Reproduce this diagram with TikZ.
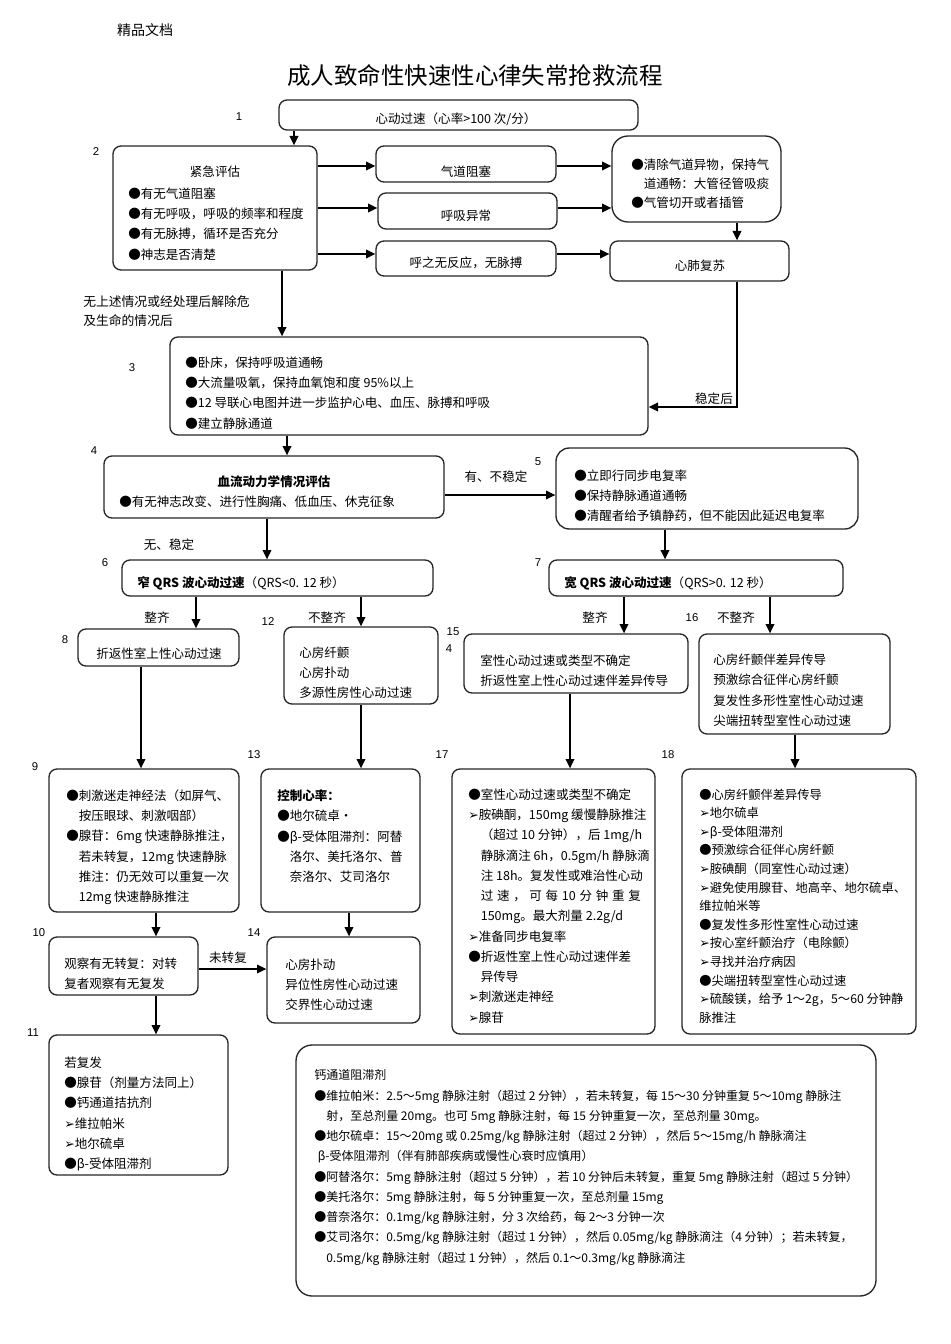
\documentclass[tikz,border=0pt]{standalone}
\usepackage{fontspec}
\setmainfont{Noto Sans CJK SC}
\newfontfamily\dvsans{DejaVu Sans}
\newfontfamily\lsans{Liberation Sans}
\usetikzlibrary{arrows.meta,fit}
\newcommand\myarr{{\dvsans\fontsize{9.4}{9.4}\selectfont ➢}}
\newcommand\ind{\hspace*{1em}}
\begin{document}
\begin{tikzpicture}[x=0.75pt,y=-0.75pt,
  box/.style={draw=black!85, line width=1pt, rounded corners=6pt, inner sep=0pt},
  arr/.style={draw=black, line width=1.1pt, -{Triangle[length=7pt,width=6.5pt]}},
  txt/.style={inner sep=0pt, anchor=north west, yshift=4.2pt, align=left, font=\fontsize{9.4}{15.2}\selectfont},
  lbl/.style={inner sep=0pt, font=\fontsize{9.4}{11}\selectfont},
  num/.style={inner sep=0pt, font=\lsans\fontsize{8.5}{10}\selectfont},
]
\useasboundingbox (0,0) rectangle (950,1344);
\fill[white] (0,0) rectangle (950,1344);

% header and title
\node[inner sep=0pt, font=\fontsize{10.5}{12}\selectfont] (hdr) at (145,30) {精品文档};
\node[inner sep=0pt, font=\fontsize{17.6}{20}\selectfont] (title) at (475,76) {成人致命性快速性心律失常抢救流程};

% boxes
\node[box, fit={(279,100) (638,130)}] (b1) {};
\node[box, fit={(113,146) (317,270)}] (b2) {};
\node[box, fit={(376,146) (556,182)}] (bAir) {};
\node[box, fit={(378,193) (557,229)}] (bBreath) {};
\node[box, fit={(376,241) (556,276)}] (bNoResp) {};
\node[box, fit={(612,136) (781,222)}, rounded corners=12pt] (bClear) {};
\node[box, fit={(610,241) (789,281)}] (bCPR) {};
\node[box, fit={(170,337) (648,435)}] (b3) {};
\node[box, fit={(104,456) (444,518)}] (b4) {};
\node[box, fit={(556,448) (858,529)}, rounded corners=10pt] (b5) {};
\node[box, fit={(122,560) (433,596)}] (b6) {};
\node[box, fit={(549,560) (843,596)}] (b7) {};
\node[box, fit={(78,629) (239,666)}] (b8) {};
\node[box, fit={(284,627) (438,704)}] (b12) {};
\node[box, fit={(464,634) (688,693)}] (b15) {};
\node[box, fit={(699,634) (890,734)}] (b16) {};
\node[box, fit={(49,769) (239,912)}] (b9) {};
\node[box, fit={(261,769) (420,912)}] (b13) {};
\node[box, fit={(452,769) (655,1034)}] (b17) {};
\node[box, fit={(682,769) (916,1034)}] (b18) {};
\node[box, fit={(49,937) (198,995)}] (b10) {};
\node[box, fit={(267,937) (420,1023)}] (b14) {};
\node[box, fit={(49,1035) (228,1175)}] (b11) {};
\node[box, fit={(296,1045) (876,1296)}, rounded corners=12pt] (bCa) {};

% number labels
\node[num] (n1) at (239,117) {1};
\node[num] (n2) at (96,152) {2};
\node[num] (n3) at (132,368) {3};
\node[num] (n4) at (94,451) {4};
\node[num] (n5) at (538,462) {5};
\node[num] (n6) at (105,563) {6};
\node[num] (n7) at (538,563) {7};
\node[num] (n8) at (65,640) {8};
\node[num] (n12) at (268,622) {12};
\node[num] (n15) at (453,632) {15};
\node[num] (n15b) at (449,649) {4};
\node[num] (n16) at (692,618) {16};
\node[num] (n9) at (35,767) {9};
\node[num] (n13) at (254,755) {13};
\node[num] (n17) at (442,755) {17};
\node[num] (n18) at (668,755) {18};
\node[num] (n10) at (39,933) {10};
\node[num] (n14) at (254,933) {14};
\node[num] (n11) at (33,1033) {11};

% texts
\node[lbl] (t1) at (456,119) {心动过速（心率>100 次/分）};
\node[lbl] (t2h) at (215,172) {紧急评估};
\node[txt] (t2) at (128,193) {●有无气道阻塞\\●有无呼吸，呼吸的频率和程度\\●有无脉搏，循环是否充分\\●神志是否清楚};
\node[lbl] (tAir) at (466,172) {气道阻塞};
\node[lbl] (tBreath) at (466,216) {呼吸异常};
\node[lbl] (tNoResp) at (466,263) {呼之无反应，无脉搏};
\node[txt, font=\fontsize{9.4}{14.3}\selectfont] (tClear) at (631,164) {●清除气道异物，保持气\\\ind 道通畅：大管径管吸痰\\●气管切开或者插管};
\node[lbl] (tCPR) at (700,266) {心肺复苏};
\node[txt, font=\fontsize{9.6}{14.6}\selectfont] (tNone) at (83,301) {无上述情况或经处理后解除危\\及生命的情况后};
\node[txt] (t3) at (185,362) {●卧床，保持呼吸道通畅\\●大流量吸氧，保持血氧饱和度 95\%以上\\●12 导联心电图并进一步监护心电、血压、脉搏和呼吸\\●建立静脉通道};
\node[lbl] (tStable) at (714,399) {稳定后};
\node[lbl, font=\bfseries\fontsize{9.4}{11}\selectfont] (t4h) at (274,482) {血流动力学情况评估};
\node[txt] (t4) at (119,501) {●有无神志改变、进行性胸痛、低血压、休克征象};
\node[lbl] (tUnst) at (496,477) {有、不稳定};
\node[txt] (t5) at (574,475) {●立即行同步电复率\\●保持静脉通道通畅\\●清醒者给予镇静药，但不能因此延迟电复率};
\node[lbl] (tSt) at (169,545) {无、稳定};
\node[txt] (t6) at (137,582) {{\bfseries 窄 QRS 波心动过速}（QRS<0. 12 秒）};
\node[txt] (t7) at (564,582) {{\bfseries 宽 QRS 波心动过速}（QRS>0. 12 秒）};
\node[lbl] (tReg1) at (157,618) {整齐};
\node[lbl] (tIrr1) at (327,618) {不整齐};
\node[lbl] (tReg2) at (595,618) {整齐};
\node[lbl] (tIrr2) at (736,618) {不整齐};
\node[lbl] (t8) at (159,654) {折返性室上性心动过速};
\node[txt] (t12) at (299,652) {心房纤颤\\心房扑动\\多源性房性心动过速};
\node[txt] (t15) at (480,660) {室性心动过速或类型不确定\\折返性室上性心动过速伴差异传导};
\node[txt, font=\fontsize{9.4}{15.4}\selectfont] (t16) at (713,659) {心房纤颤伴差异传导\\预激综合征伴心房纤颤\\复发性多形性室性心动过速\\尖端扭转型室性心动过速};
\node[txt] (t9) at (66,795) {●刺激迷走神经法（如屏气、\\\ind 按压眼球、刺激咽部）\\●腺苷：6mg 快速静脉推注，\\\ind 若未转复，12mg 快速静脉\\\ind 推注：仍无效可以重复一次\\\ind 12mg 快速静脉推注};
\node[txt] (t13) at (277,795) {{\bfseries 控制心率：}\\●地尔硫卓·\\●β-受体阻滞剂：阿替\\\ind 洛尔、美托洛尔、普\\\ind 奈洛尔、艾司洛尔};
\node[txt] (t10) at (64,963) {观察有无转复：对转\\复者观察有无复发};
\node[lbl] (tNo) at (228,958) {未转复};
\node[txt] (t14) at (285,964) {心房扑动\\异位性房性心动过速\\交界性心动过速};
\node[txt] (t11) at (64,1062) {若复发\\●腺苷（剂量方法同上）\\●钙通道拮抗剂\\\myarr 维拉帕米\\\myarr 地尔硫卓\\●β-受体阻滞剂};
\node[txt] (t17) at (468,794) {●室性心动过速或类型不确定\\\myarr 胺碘酮，150mg 缓慢静脉推注\\\ind（超过 10 分钟），后 1mg/h\\\ind 静脉滴注 6h，0.5gm/h 静脉滴\\\ind 注 18h。复发性或难治性心动\\\ind \makebox[120pt][s]{过\hfill 速\hfill ，\hfill 可\hfill 每\hfill 10\hfill 分\hfill 钟\hfill 重\hfill 复}\\\ind 150mg。最大剂量 2.2g/d\\\myarr 准备同步电复率\\●折返性室上性心动过速伴差\\\ind 异传导\\\myarr 刺激迷走神经\\\myarr 腺苷};
\node[txt, font=\fontsize{9.2}{13.95}\selectfont] (t18) at (699,794) {●心房纤颤伴差异传导\\\myarr 地尔硫卓\\\myarr β-受体阻滞剂\\●预激综合征伴心房纤颤\\\myarr 胺碘酮（同室性心动过速）\\\myarr 避免使用腺苷、地高辛、地尔硫卓、\\维拉帕米等\\●复发性多形性室性心动过速\\\myarr 按心室纤颤治疗（电除颤）\\\myarr 寻找并治疗病因\\●尖端扭转型室性心动过速\\\myarr 硫酸镁，给予 1～2g，5～60 分钟静\\脉推注};
\node[txt, font=\fontsize{9.0}{15.2}\selectfont] (tCa) at (314,1075) {钙通道阻滞剂\\●维拉帕米：2.5～5mg 静脉注射（超过 2 分钟），若未转复，每 15～30 分钟重复 5～10mg 静脉注\\\ind 射，至总剂量 20mg。也可 5mg 静脉注射，每 15 分钟重复一次，至总剂量 30mg。\\●地尔硫卓：15～20mg 或 0.25mg/kg 静脉注射（超过 2 分钟），然后 5～15mg/h 静脉滴注\\\hspace*{0.3em}β-受体阻滞剂（伴有肺部疾病或慢性心衰时应慎用）\\●阿替洛尔：5mg 静脉注射（超过 5 分钟），若 10 分钟后未转复，重复 5mg 静脉注射（超过 5 分钟）\\●美托洛尔：5mg 静脉注射，每 5 分钟重复一次，至总剂量 15mg\\●普奈洛尔：0.1mg/kg 静脉注射，分 3 次给药，每 2～3 分钟一次\\●艾司洛尔：0.5mg/kg 静脉注射（超过 1 分钟），然后 0.05mg/kg 静脉滴注（4 分钟）；若未转复，\\\ind 0.5mg/kg 静脉注射（超过 1 分钟），然后 0.1～0.3mg/kg 静脉滴注};

% helper coordinates
\coordinate (v294) at (294,0);
\coordinate (v282) at (282,0);
\coordinate (v287) at (287,0);
\coordinate (v267) at (267,0);
\coordinate (v665) at (665,0);
\coordinate (v196) at (196,0);
\coordinate (v361) at (361,0);
\coordinate (v624) at (624,0);
\coordinate (v770) at (770,0);
\coordinate (v141) at (141,0);
\coordinate (v570) at (570,0);
\coordinate (v795) at (795,0);
\coordinate (v156) at (156,0);
\coordinate (v349) at (349,0);
\coordinate (v737) at (737,0);
\coordinate (h166) at (0,166);
\coordinate (h208) at (0,208);
\coordinate (h254) at (0,254);
\coordinate (h407) at (0,407);
\coordinate (h495) at (0,495);
\coordinate (h969) at (0,969);

% connectors
\draw[arr] (b1.south -| v294) -- (b2.north -| v294);
\draw[arr] (b2.east |- h166) -- (bAir.west |- h166);
\draw[arr] (b2.east |- h208) -- (bBreath.west |- h208);
\draw[arr] (b2.east |- h254) -- (bNoResp.west |- h254);
\draw[arr] (bAir.east |- h166) -- (bClear.west |- h166);
\draw[arr] (bBreath.east |- h208) -- (bClear.west |- h208);
\draw[arr] (bNoResp.east |- h254) -- (bCPR.west |- h254);
\draw[arr] (bClear.south -| v737) -- (bCPR.north -| v737);
\draw[arr] (bCPR.south -| v737) -- (v737 |- h407) -- (b3.east |- h407);
\draw[arr] (b2.south -| v282) -- (b3.north -| v282);
\draw[arr] (b3.south -| v287) -- (b4.north -| v287);
\draw[arr] (b4.east |- h495) -- (b5.west |- h495);
\draw[arr] (b4.south -| v267) -- (b6.north -| v267);
\draw[arr] (b5.south -| v665) -- (b7.north -| v665);
\draw[arr] (b6.south -| v196) -- (b8.north -| v196);
\draw[arr] (b6.south -| v361) -- (b12.north -| v361);
\draw[arr] (b7.south -| v624) -- (b15.north -| v624);
\draw[arr] (b7.south -| v770) -- (b16.north -| v770);
\draw[arr] (b8.south -| v141) -- (b9.north -| v141);
\draw[arr] (b12.south -| v361) -- (b13.north -| v361);
\draw[arr] (b15.south -| v570) -- (b17.north -| v570);
\draw[arr] (b16.south -| v795) -- (b18.north -| v795);
\draw[arr] (b9.south -| v156) -- (b10.north -| v156);
\draw[arr] (b13.south -| v349) -- (b14.north -| v349);
\draw[arr] (b10.east |- h969) -- (b14.west |- h969);
\draw[arr] (b10.south -| v156) -- (b11.north -| v156);
\end{tikzpicture}
\end{document}
